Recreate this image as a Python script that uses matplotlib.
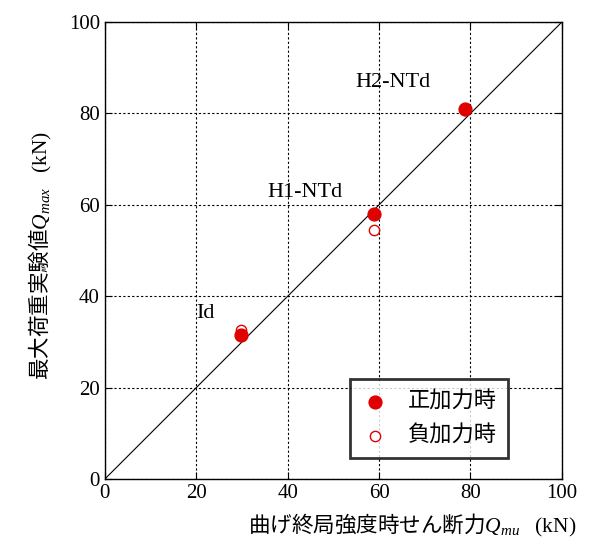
import matplotlib
matplotlib.use("Agg")
from matplotlib import pyplot as plt
import matplotlib as mpl

mpl.rcParams['font.family'] = ['Liberation Serif', 'Noto Sans CJK JP']
mpl.rcParams['mathtext.fontset'] = 'custom'
mpl.rcParams['mathtext.it'] = 'Liberation Serif:italic'
mpl.rcParams['mathtext.rm'] = 'Liberation Serif'

# 曲げ終局強度時せん断力 Qmu (kN)
qmu_pos = [29.8, 58.9, 78.8]
qmax_pos = [31.5, 58.0, 81.0]
qmu_neg = [29.8, 58.9, 78.8]
qmax_neg = [32.6, 54.5, 80.8]
names = ["Id", "H1-NTd", "H2-NTd"]
name_xy = [(21.9, 36.3), (43.8, 62.6), (63.0, 86.7)]

fig = plt.figure(figsize=(5.89, 5.5), dpi=100)
ax = fig.add_axes([0.178, 0.129, 0.776, 0.831])

ax.plot([0, 100], [0, 100], color="black", lw=0.8, zorder=2)
ax.scatter(qmu_neg, qmax_neg, s=55, facecolors="white", edgecolors="#e00000",
           linewidths=1.0, zorder=3, label="負加力時")
ax.scatter(qmu_pos, qmax_pos, s=85, color="#e00000", zorder=4, label="正加力時")

for n, (x, y) in zip(names, name_xy):
    ax.text(x, y, n, fontsize=16, ha="center", va="center")

ax.set_xlim(0, 100)
ax.set_ylim(0, 100)
ax.set_xticks(range(0, 101, 20))
ax.set_yticks(range(0, 101, 20))
ax.grid(True, color="black", ls=(0, (2, 2)), lw=0.8)
ax.tick_params(direction="in", top=True, right=True, labelsize=15, length=5)
for sp in ax.spines.values():
    sp.set_linewidth(1.0)

ax.set_xlabel(r"曲げ終局強度時せん断力$Q_{mu}\ \ \ \mathrm{(kN)}$", fontsize=15.5,
              fontfamily="Noto Sans CJK JP")
ax.set_ylabel(r"最大荷重実験値$Q_{max}\ \ \ \mathrm{(kN)}$", fontsize=15.5,
              fontfamily="Noto Sans CJK JP")
ax.xaxis.set_label_coords(0.672, -0.072)
ax.yaxis.set_label_coords(-0.112, 0.49)

h, l = ax.get_legend_handles_labels()
leg = ax.legend(h[::-1], l[::-1], loc="lower right", bbox_to_anchor=(0.882, 0.046),
                borderaxespad=0, frameon=True, fancybox=False, edgecolor="black",
                borderpad=0.5, labelspacing=0.5, handletextpad=0.86,
                handlelength=1.26,
                prop={'family': ['Noto Sans CJK JP'], 'size': 16})
leg.get_frame().set_linewidth(2.0)

plt.savefig("out.png", dpi=100)
